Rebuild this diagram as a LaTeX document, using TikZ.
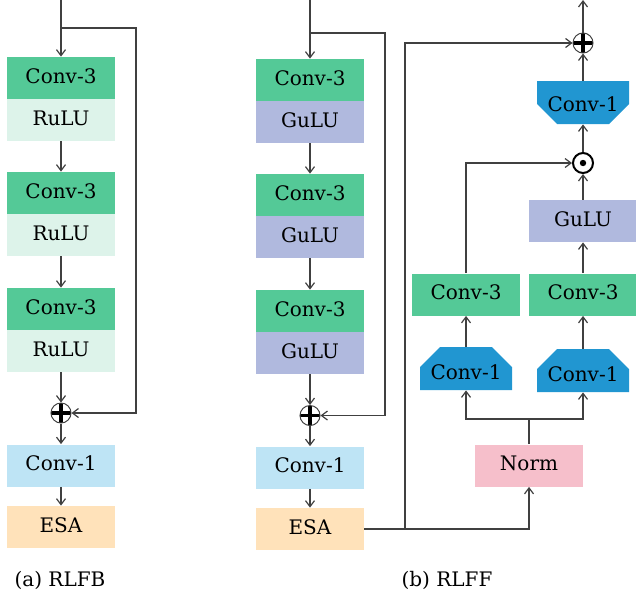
\documentclass[tikz,border=0pt]{standalone}
\usepackage{fontspec}
\setmainfont{DejaVu Serif}
\usetikzlibrary{arrows.meta}

\definecolor{cthree}{RGB}{84,201,151}
\definecolor{crulu}{RGB}{221,243,234}
\definecolor{cgulu}{RGB}{176,185,222}
\definecolor{cone}{RGB}{190,228,245}
\definecolor{cesa}{RGB}{255,226,186}
\definecolor{cnorm}{RGB}{246,191,203}
\definecolor{ctrap}{RGB}{33,150,209}
\definecolor{linegray}{RGB}{64,64,64}

\tikzset{
  box/.style={minimum width=54pt, minimum height=21pt, inner sep=0pt, text height=7.6pt, text depth=2.5pt},
  convthree/.style={box, fill=cthree},
  rulu/.style={box, fill=crulu},
  gulu/.style={box, fill=cgulu},
  convone/.style={box, fill=cone},
  esa/.style={box, fill=cesa},
  normbox/.style={box, fill=cnorm},
  trapup/.style={minimum width=46pt, minimum height=21.5pt, inner sep=0pt, text height=10.5pt, text depth=0pt,
    path picture={\fill[ctrap] (path picture bounding box.south west) -- ([yshift=-10pt]path picture bounding box.north west)
      -- ([xshift=10pt]path picture bounding box.north west) -- ([xshift=-10pt]path picture bounding box.north east)
      -- ([yshift=-10pt]path picture bounding box.north east) -- (path picture bounding box.south east) -- cycle;}},
  trapdown/.style={minimum width=46pt, minimum height=21.5pt, inner sep=0pt, text height=8.6pt, text depth=0pt,
    path picture={\fill[ctrap] (path picture bounding box.north west) -- ([yshift=10pt]path picture bounding box.south west)
      -- ([xshift=10pt]path picture bounding box.south west) -- ([xshift=-10pt]path picture bounding box.south east)
      -- ([yshift=10pt]path picture bounding box.south east) -- (path picture bounding box.north east) -- cycle;}},
  oplus/.style={circle, draw=linegray, line width=0.5pt, minimum size=10pt, inner sep=0pt,
    path picture={\draw[line width=1.6pt, black] (path picture bounding box.north) -- (path picture bounding box.south)
      (path picture bounding box.west) -- (path picture bounding box.east);}},
  odot/.style={circle, draw=black, line width=1pt, minimum size=10pt, inner sep=0pt,
    path picture={\fill[black] (path picture bounding box.center) circle (1.6pt);}},
  wire/.style={draw=linegray, line width=0.6pt},
  flow/.style={wire, -{Straight Barb[length=3pt, width=4.5pt]}},
}

\begin{document}
\begin{tikzpicture}[x=0.5pt, y=-0.5pt, every node/.style={font=\normalsize}]
  \useasboundingbox (0,0) rectangle (636,596);

  % (a) RLFB: three conv blocks
  \foreach \i/\yy in {1/78,2/193,3/309}{
    \node[convthree] (c3a\i) at (61,\yy) {Conv-3};
    \node[rulu] (ra\i) at (61,\yy+42) {RuLU};
  }
  \node[oplus] (pa) at (61,413) {};
  \node[convone] (c1a) at (61,465.5) {Conv-1};
  \node[esa] (esaa) at (61,527) {ESA};

  \coordinate (ina) at (61,0);
  \coordinate (forka) at (61,28);
  \coordinate (cornera) at (136,28);
  \draw[flow] (ina) -- (c3a1);
  \foreach \i/\j in {1/2,2/3}{
    \draw[flow] (ra\i) -- (c3a\j);
  }
  \draw[flow] (ra3) -- (pa);
  \draw[flow] (pa) -- (c1a);
  \draw[flow] (c1a) -- (esaa);
  \draw[flow] (forka) -- (cornera) |- (pa.east);

  % (b) RLFF: left part
  \foreach \i/\yy in {1/80,2/195,3/311}{
    \node[convthree] (c3b\i) at (310,\yy) {Conv-3};
    \node[gulu] (gb\i) at (310,\yy+42) {GuLU};
  }
  \node[oplus] (pb) at (310,415.5) {};
  \node[convone] (c1b) at (310,467.5) {Conv-1};
  \node[esa] (esab) at (310,529) {ESA};

  \coordinate (inb) at (310,0);
  \coordinate (forkb) at (310,33);
  \coordinate (cornerb) at (385,33);
  \draw[flow] (inb) -- (c3b1);
  \foreach \i/\j in {1/2,2/3}{
    \draw[flow] (gb\i) -- (c3b\j);
  }
  \draw[flow] (gb3) -- (pb);
  \draw[flow] (pb) -- (c1b);
  \draw[flow] (c1b) -- (esab);
  \draw[flow] (forkb) -- (cornerb) |- (pb.east);

  % (b) RLFF: feed-forward part
  \node[normbox] (norm) at (529,465.5) {Norm};
  \node[trapup] (tl) at (466,368.5) {Conv-1};
  \node[trapup] (tr) at (583,370.5) {Conv-1};
  \node[convthree] (c3l) at (466,294.5) {Conv-3};
  \node[convthree] (c3r) at (583,294.5) {Conv-3};
  \node[gulu] (gr) at (583,221) {GuLU};
  \node[odot] (dot) at (583,163) {};
  \node[trapdown] (tt) at (583,102.5) {Conv-1};
  \node[oplus] (pr) at (583,43) {};

  \coordinate (branch) at (405,529);
  \coordinate (split) at (529,419);
  \coordinate (outr) at (583,0);
  \draw[flow] (esab.east) -| (norm.south);
  \draw[flow] (branch) |- (pr.west);
  \draw[wire] (norm.north) -- (split);
  \draw[flow] (split) -| (tl.south);
  \draw[flow] (split) -| (tr.south);
  \draw[flow] (tl) -- (c3l);
  \draw[flow] (tr) -- (c3r);
  \draw[flow] (c3l.north) |- (dot.west);
  \draw[flow] (c3r) -- (gr);
  \draw[flow] (gr) -- (dot);
  \draw[flow] (dot) -- (tt);
  \draw[flow] (tt) -- (pr);
  \draw[flow] (pr) -- (outr);

  % captions
  \node (capa) at (60,580) {(a) RLFB};
  \node (capb) at (447,580) {(b) RLFF};
\end{tikzpicture}
\end{document}
